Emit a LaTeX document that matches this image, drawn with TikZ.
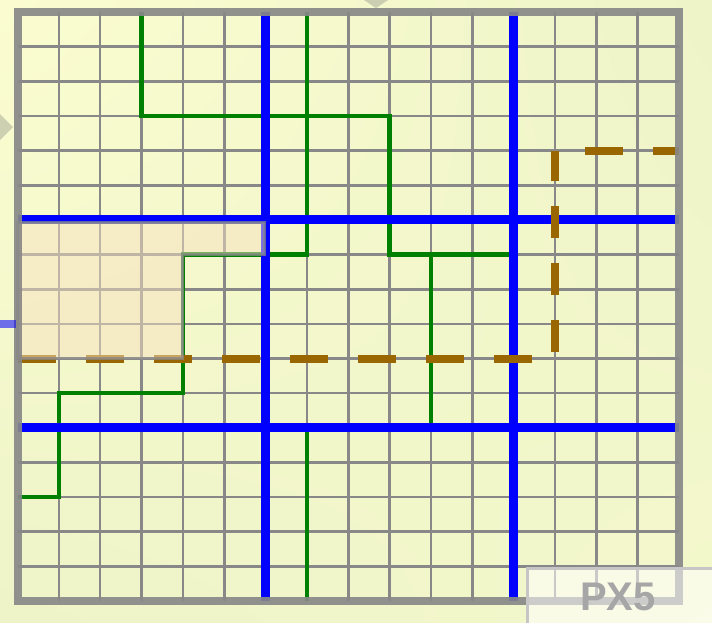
\documentclass[tikz,border=0pt]{standalone}
\usepackage{fontspec}
\newfontfamily\labelfont{Liberation Sans}
\usetikzlibrary{calc, shadings}
\definecolor{bgGreen}{HTML}{EEF4C8}
\definecolor{bgYellow}{HTML}{FBFDD0}
\definecolor{gridGray}{HTML}{888888}
\definecolor{wallBlue}{HTML}{0000FF}
\definecolor{wireGreen}{HTML}{008000}
\definecolor{routeBrown}{HTML}{996600}
\definecolor{zoneBeige}{HTML}{F7E2C2}

\begin{document}
\begin{tikzpicture}[
    x=1pt, y=-1pt,
    % thin cell lines and the heavy outer frame
    cell/.style  ={draw=gridGray, line width=2.6pt},
    frame/.style ={draw=gridGray, line width=8pt, opacity=0.92},
    % blue walls sit over the green wires
    wall/.style  ={draw=wallBlue, line width=9pt},
    wire/.style  ={draw=wireGreen, line width=4.5pt},
    route/.style ={draw=routeBrown, line width=8pt},
    % shaded L-shaped zone, drawn over everything but the frame
    zone/.style  ={fill=zoneBeige, fill opacity=0.5, draw=gridGray, draw opacity=0.75, line width=3pt},
    marker/.style={fill=gray, fill opacity=0.35},
  ]

  \useasboundingbox (0,0) rectangle (712,622);
  \shade[upper left=bgYellow, upper right=bgGreen, lower left=bgGreen,
         lower right=bgGreen!55!bgYellow] (0,0) rectangle (712,622);

  % grid in cell units: 16 columns, 17 rows
  \begin{scope}[shift={(17.5,12)}, x=41.34pt, y=-34.65pt]
    \foreach \c in {1,...,15} \draw[cell] (\c,0) -- (\c,17);
    \foreach \r in {1,...,16} \draw[cell] (0,\r) -- (16,\r);

    \draw[wire] (3,0) |- (9,3) |- (12,7);
    \draw[wire] (10,7) -- (10,12);
    \draw[wire] (7,0) |- (4,7) |- (1,11) |- (0,14);
    \draw[wire] (7,12) -- (7,17);

    \draw[wall] (6,0) -- (6,17);
    \draw[wall] (12,0) -- (12,17);
    \draw[wall] (0,6) -- (16,6);
    \draw[wall] (0,12) -- (16,12);

    % the dashes are longer across than down, as in the reference
    \draw[route, dash pattern=on 38pt off 30pt] (0,10) -- (13,10);
    \draw[route, dash pattern=on 32.5pt off 24.5pt, dash phase=50.5pt] (13,10) -- (13,4);
    \draw[route, dash pattern=on 38pt off 30pt, dash phase=38pt] (13,4) -- (16,4);

    \draw[zone] (0,6.07) -- (5.98,6.07) -- (5.98,7) -- (4,7) -- (4,10) -- (0,10) -- cycle;

    \draw[frame] (0,0) rectangle (16,17);
  \end{scope}

  % edge markers and the stub on the left side
  \fill[marker] (364,0) -- (388,0) -- (376,8) -- cycle;
  \fill[marker] (0,114) -- (0,140) -- (13,127) -- cycle;
  \fill[wallBlue, opacity=0.55] (0,320) rectangle (16,328);

  % caption tab in the lower right corner
  \fill[white, opacity=0.55] (527,568) rectangle (730,640);
  \draw[gray!45, line width=3pt] (527,640) -- (527,568) -- (730,568);
  \node[font=\labelfont\bfseries\fontsize{40}{40}\selectfont, text=gray!70, inner sep=0pt]
    (tag) at (618,597) {PX5};

\end{tikzpicture}
\end{document}
